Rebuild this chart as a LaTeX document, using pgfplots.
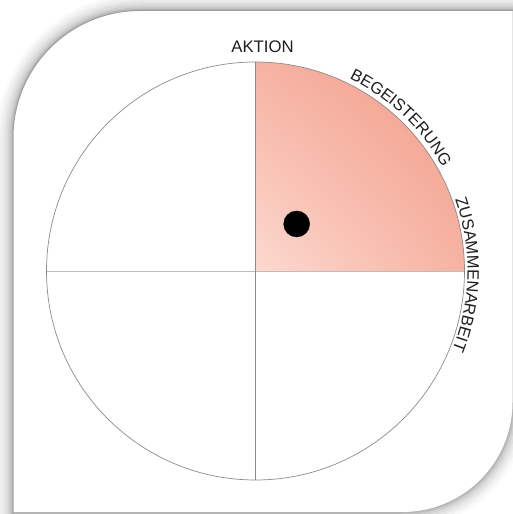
\documentclass[border=0pt]{standalone}
\usepackage{pgfplots}
\pgfplotsset{compat=1.18}
\usepackage{fontspec}
\setmainfont{Liberation Sans}
\usetikzlibrary{decorations.text,calc,shadings}
\definecolor{lightpink}{HTML}{FCD9CF}
\definecolor{darkpink}{HTML}{F29A86}
\definecolor{midpink}{HTML}{F6B3A3}
\definecolor{linegray}{HTML}{8C8C8C}
\definecolor{hgray}{HTML}{BDBDBD}
\definecolor{cardborder}{HTML}{A0A0A0}
\definecolor{txt}{HTML}{1E1E1E}
\newcommand\cardpath{(13,-30) -- (13,376.5) arc[start angle=180,end angle=90,radius=127] -- (512.5,503.5) -- (512.5,112) arc[start angle=0,end angle=-90,radius=110] -- (13,2) -- cycle}
\begin{document}
\begin{tikzpicture}[x=1bp,y=1bp]
\useasboundingbox (0,0) rectangle (513,514);
\clip (0,0) rectangle (513,514);
\foreach \w/\o in {32/0.025,26/0.03,20/0.035,15/0.045,10/0.055,6/0.065,3/0.08}{
  \draw[line width=\w bp, black, opacity=\o, line join=round] \cardpath;
}
\fill[white] \cardpath;
\draw[cardborder, line width=1bp] (13,-30) -- (13,376.5) arc[start angle=180,end angle=90,radius=127] -- (520,503.5);
\begin{axis}[at={(255.5bp,243bp)}, anchor=center, scale only axis,
  width=418bp, height=418bp, xmin=-1, xmax=1, ymin=-1, ymax=1,
  hide axis, clip=false]
\shade[lower left=lightpink, upper right=darkpink, upper left=midpink, lower right=midpink]
  (axis cs:0,0) -- (axis cs:1,0) arc[start angle=0,end angle=90,radius=209bp] -- cycle;
\draw[hgray, line width=0.8bp] (axis cs:-1,0) -- (axis cs:1,0);
\draw[linegray, line width=0.8bp] (axis cs:0,-1) -- (axis cs:0,1);
\draw[linegray, line width=0.7bp] (axis cs:0,0) circle[radius=209bp];
\addplot[only marks, mark=*, mark size=13bp, black] coordinates {(0.197,0.225)};
\end{axis}
\node[anchor=base, font=\fontsize{16.8}{17}\selectfont, text=txt] at (262.5,461) {AKTION};
\path[decorate, decoration={text along path, text={|\fontsize{16.5}{17}\selectfont\color{txt}|BEGEISTERUNG}, text align=center}]
  (255.5,243) ++(86.5:214) arc[start angle=86.5, end angle=6.5, radius=214];
\path[decorate, decoration={text along path, text={|\fontsize{16.5}{17}\selectfont\color{txt}|ZUSAMMENARBEIT}, text align=center}]
  (255.5,243) ++(39:212) arc[start angle=39, end angle=-41, radius=212];
\end{tikzpicture}
\end{document}
